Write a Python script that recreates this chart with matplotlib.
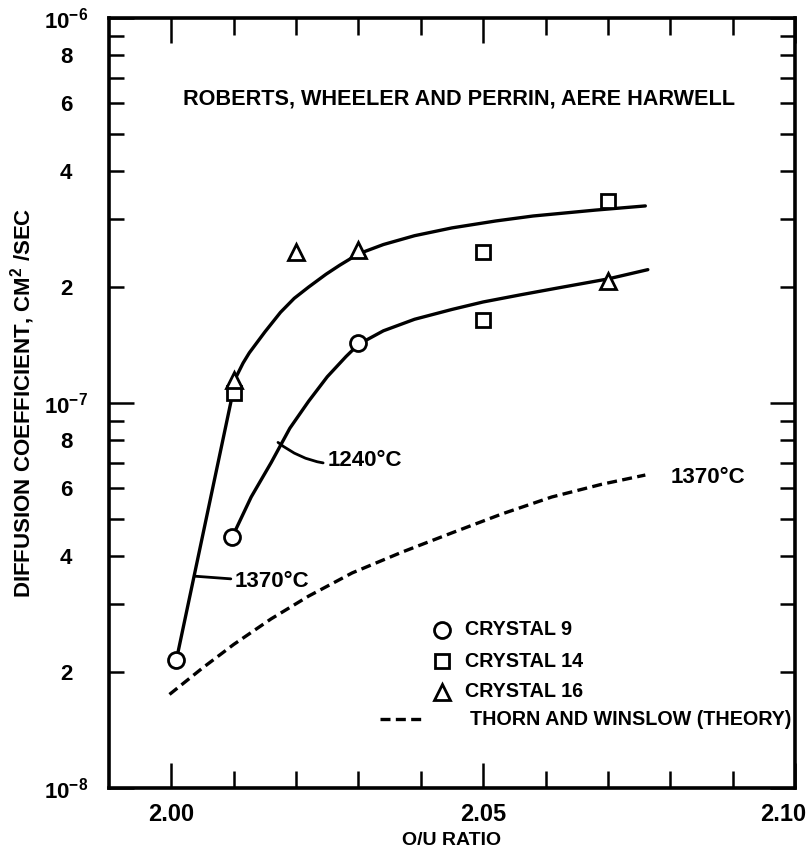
import matplotlib
matplotlib.use("Agg")
import matplotlib.pyplot as plt
from matplotlib.ticker import FixedLocator, FuncFormatter, NullFormatter
from matplotlib.transforms import ScaledTranslation

plt.rcParams['font.family'] = ['Liberation Sans', 'DejaVu Sans']
plt.rcParams['font.weight'] = 'bold'
plt.rcParams['axes.labelweight'] = 'bold'
plt.rcParams['mathtext.fontset'] = 'custom'
plt.rcParams['mathtext.rm'] = 'Liberation Sans:bold'
plt.rcParams['mathtext.it'] = 'Liberation Sans:bold'
plt.rcParams['mathtext.bf'] = 'Liberation Sans:bold'
plt.rcParams['mathtext.default'] = 'regular'

# ---------------- data ----------------
# drawn curve through the measurements, 1370 C
curve1370_x = [2.0008, 2.0104, 2.0115, 2.0125, 2.0150, 2.0175, 2.0197, 2.0220, 2.0248,
               2.0270, 2.0300, 2.0340, 2.0390, 2.0450, 2.0520, 2.0580, 2.0680, 2.0760]
curve1370_y = [2.15e-8, 1.17e-7, 1.27e-7, 1.35e-7, 1.53e-7, 1.72e-7, 1.87e-7, 2.00e-7, 2.16e-7,
               2.28e-7, 2.44e-7, 2.58e-7, 2.72e-7, 2.85e-7, 2.97e-7, 3.06e-7, 3.17e-7, 3.25e-7]
# drawn curve, 1240 C
curve1240_x = [2.0098, 2.0128, 2.0160, 2.0190, 2.0220, 2.0250, 2.0280, 2.0300, 2.0340,
               2.0390, 2.0450, 2.0500, 2.0560, 2.0620, 2.0700, 2.0764]
curve1240_y = [4.5e-8, 5.7e-8, 7.0e-8, 8.6e-8, 1.01e-7, 1.17e-7, 1.32e-7, 1.42e-7, 1.54e-7,
               1.65e-7, 1.75e-7, 1.83e-7, 1.91e-7, 1.99e-7, 2.10e-7, 2.22e-7]
# Thorn and Winslow theory (1370 C)
theory_x = [1.9997, 2.0050, 2.0100, 2.0160, 2.0220, 2.0290, 2.0370, 2.0450, 2.0530,
            2.0610, 2.0690, 2.0760]
theory_y = [1.75e-8, 2.05e-8, 2.36e-8, 2.75e-8, 3.15e-8, 3.62e-8, 4.10e-8, 4.60e-8, 5.15e-8,
            5.70e-8, 6.15e-8, 6.50e-8]

crystal9_x = [2.0008, 2.0098, 2.0300]
crystal9_y = [2.15e-8, 4.5e-8, 1.43e-7]
crystal14_x = [2.0100, 2.0500, 2.0500, 2.0700]
crystal14_y = [1.06e-7, 2.46e-7, 1.64e-7, 3.34e-7]
crystal16_x = [2.0100, 2.0200, 2.0300, 2.0700]
crystal16_y = [1.15e-7, 2.46e-7, 2.49e-7, 2.08e-7]

x_major = [2.00, 2.05, 2.10]
x_major_labels = ["2.00", "2.05", "2.10"]
x_minor = [2.01, 2.02, 2.03, 2.04, 2.06, 2.07, 2.08, 2.09]
y_major = [1e-8, 1e-7, 1e-6]
y_major_labels = [r"10$^{-8}$", r"10$^{-7}$", r"10$^{-6}$"]
y_minor_mult = [2, 3, 4, 5, 6, 7, 8, 9]
y_minor_labeled = [2, 4, 6, 8]

legend_labels = ["CRYSTAL 9", "CRYSTAL 14", "CRYSTAL 16", "THORN AND WINSLOW (THEORY)"]
title_text = "ROBERTS, WHEELER AND PERRIN, AERE HARWELL"

# ---------------- figure ----------------
fig = plt.figure(figsize=(8.12, 8.58), dpi=100)
ax = fig.add_axes([109/812, 1-788/858, (795-109)/812, (788-18)/858])

ax.set_yscale('log')
ax.set_xlim(1.990, 2.100)
ax.set_ylim(1e-8, 1e-6)

K = 'black'
DASH = (0, (3.0, 1.6))
ax.plot(curve1370_x, curve1370_y, color=K, lw=2.4, zorder=2, solid_capstyle='round', solid_joinstyle='round')
ax.plot(curve1240_x, curve1240_y, color=K, lw=2.4, zorder=2, solid_capstyle='round', solid_joinstyle='round')
ax.plot(theory_x, theory_y, color=K, lw=2.4, ls=DASH, zorder=2)

mk = dict(ls='none', mfc='white', mec=K, mew=2.0, zorder=3)
ax.plot(crystal9_x, crystal9_y, marker='o', ms=11.5, **mk)
ax.plot(crystal14_x, crystal14_y, marker='s', ms=10.5, **mk)
ax.plot(crystal16_x, crystal16_y, marker='^', ms=12, **mk)

# ticks
ax.xaxis.set_major_locator(FixedLocator(x_major))
ax.xaxis.set_minor_locator(FixedLocator(x_minor))
ax.set_xticklabels(x_major_labels)
ax.xaxis.set_minor_formatter(NullFormatter())

ax.yaxis.set_major_locator(FixedLocator(y_major))
ax.set_yticklabels(y_major_labels)
minors = [m * d for d in (1e-8, 1e-7) for m in y_minor_mult]
ax.yaxis.set_minor_locator(FixedLocator(minors))

def minor_fmt(v, pos):
    for d in (1e-8, 1e-7):
        m = v / d
        if abs(m - round(m)) < 1e-6 and int(round(m)) in y_minor_labeled:
            return str(int(round(m)))
    return ""
ax.yaxis.set_minor_formatter(FuncFormatter(minor_fmt))

ax.tick_params(which='both', direction='in', top=True, right=True, width=1.8, colors=K)
ax.tick_params(axis='x', which='major', length=18, pad=11, labelsize=17)
ax.tick_params(axis='x', which='minor', length=12)
ax.tick_params(axis='y', which='major', length=18, pad=31, labelsize=16)
ax.tick_params(axis='y', which='minor', length=11, pad=31, labelsize=16)
for lab in ax.get_yticklabels(which='both'):
    lab.set_horizontalalignment('center')
# last x label sits slightly left of its tick in the reference
lastlab = ax.get_xticklabels()[-1]
lastlab.set_transform(lastlab.get_transform() + ScaledTranslation(-12/100, 0, fig.dpi_scale_trans))

for s in ax.spines.values():
    s.set_linewidth(2.6)

ax.set_xlabel("O/U RATIO", fontsize=14, labelpad=4)
ax.set_ylabel("DIFFUSION COEFFICIENT, CM$^{2}$ /SEC", fontsize=16, labelpad=5)

ax.text(0.51, 0.895, title_text, transform=ax.transAxes, ha='center', va='center', fontsize=15.6)

# curve annotations
ax.annotate("1370°C", xy=(2.0037, 3.55e-8), xytext=(2.0102, 3.43e-8), ha='left', va='center',
            fontsize=16, arrowprops=dict(arrowstyle='-', lw=2, color=K, shrinkA=1, shrinkB=0))
ax.annotate("1240°C", xy=(2.0171, 7.9e-8), xytext=(2.0250, 7.1e-8), ha='left', va='center',
            fontsize=16, arrowprops=dict(arrowstyle='-', lw=2, color=K, shrinkA=1, shrinkB=0,
                                         connectionstyle='arc3,rad=-0.25'))
ax.text(2.0800, 6.4e-8, "1370°C", ha='left', va='center', fontsize=16)

# legend drawn by hand
tr = ax.transAxes
rows = [0.2052, 0.1649, 0.1247, 0.0896]
ax.plot([0.485], [rows[0]], marker='o', transform=tr, **{**mk, 'ms': 11.5})
ax.plot([0.485], [rows[1]], marker='s', transform=tr, **{**mk, 'ms': 10.5})
ax.plot([0.485], [rows[2]], marker='^', transform=tr, **{**mk, 'ms': 12})
ax.plot([0.395, 0.458], [rows[3], rows[3]], color=K, lw=2.4, ls=DASH, transform=tr)
for yy, lab in zip(rows[:3], legend_labels[:3]):
    ax.text(0.519, yy, lab, transform=tr, ha='left', va='center', fontsize=14.2)
ax.text(0.526, rows[3], legend_labels[3], transform=tr, ha='left', va='center', fontsize=14.2)

fig.savefig("out.png", dpi=100)
